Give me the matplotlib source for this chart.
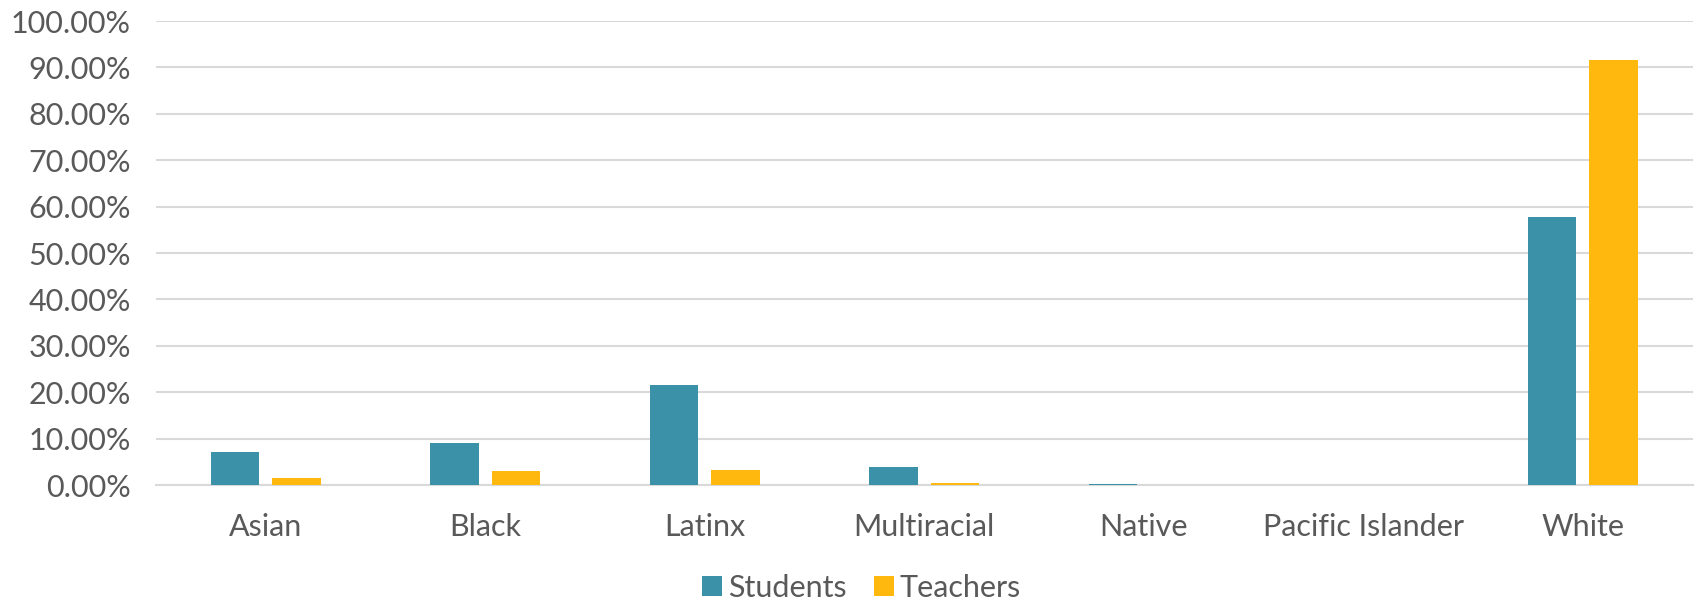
import numpy as np
import matplotlib.pyplot as plt
from matplotlib.ticker import FuncFormatter

groups = ['Asian', 'Black', 'Latinx', 'Multiracial', 'Native', 'Pacific Islander', 'White']
students = [7.05, 9.15, 21.6, 3.9, 0.2, 0.05, 57.8]
teachers = [1.6, 2.95, 3.25, 0.45, 0.05, 0.0, 91.6]

teal = '#3A91A8'
gold = '#FFB80E'
txt = '#595959'

plt.rcParams['font.family'] = ['Lato', 'DejaVu Sans']

fig = plt.figure(figsize=(16.96, 6.01), dpi=100)
ax = fig.add_axes([0.092, 0.193, 0.906, 0.772])

x = np.arange(len(groups))
w = 0.22
ax.bar(x - 0.14, students, w, color=teal, label='Students', zorder=3)
ax.bar(x + 0.14, teachers, w, color=gold, label='Teachers', zorder=3)

ax.set_xlim(-0.5, len(groups) - 0.5)
ax.set_ylim(0, 100)
ax.set_yticks(np.arange(0, 101, 10))
ax.yaxis.set_major_formatter(FuncFormatter(lambda v, p: '%.2f%%' % v))
ax.set_xticks(x)
ax.set_xticklabels(groups)

ax.grid(axis='y', color='#D9D9D9', linewidth=1.5, zorder=0)
for s in ['top', 'right', 'left']:
    ax.spines[s].set_visible(False)
ax.spines['bottom'].set_color('#D9D9D9')
ax.spines['bottom'].set_linewidth(1.5)
ax.tick_params(axis='both', length=0, colors=txt, labelsize=22)
ax.tick_params(axis='y', pad=18)
ax.tick_params(axis='x', pad=20)

ax.legend(loc='lower center', bbox_to_anchor=(0.508, -0.022), bbox_transform=fig.transFigure,
          ncol=2, frameon=False, fontsize=22, labelcolor=txt,
          handlelength=0.65, handleheight=0.65, handletextpad=0.2, columnspacing=0.9,
          borderaxespad=0.0)

fig.savefig('out.png', dpi=100)
